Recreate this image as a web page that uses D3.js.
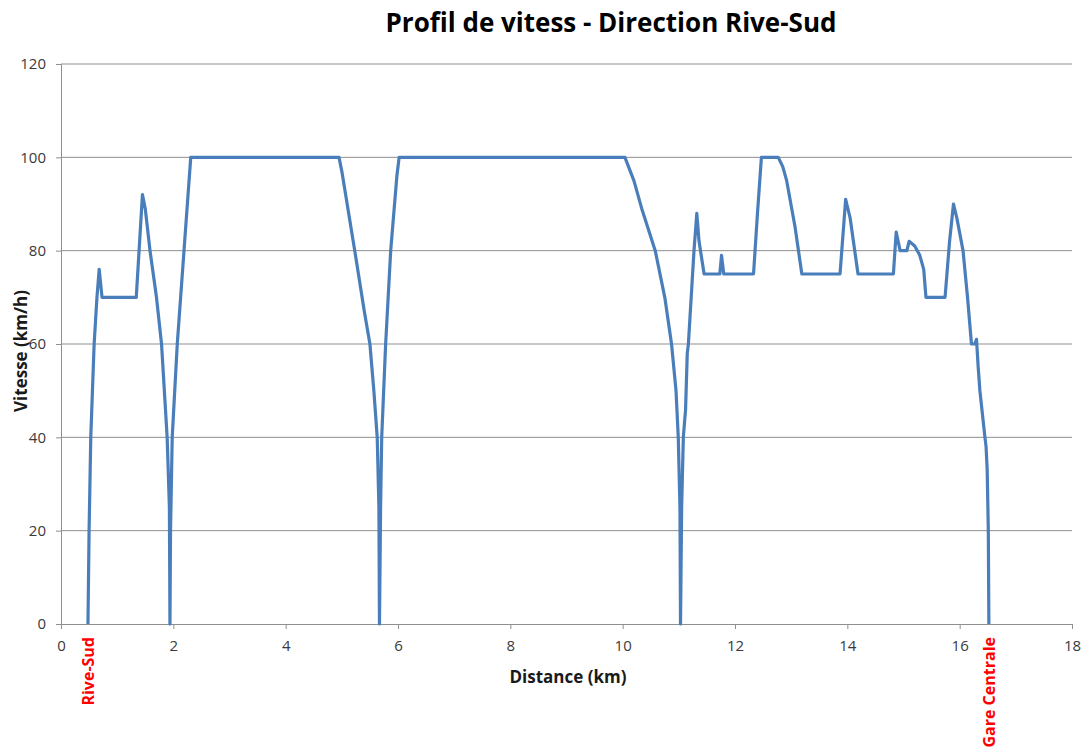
<!DOCTYPE html>
<html>
<head>
<meta charset="utf-8">
<script src="https://cdn.jsdelivr.net/npm/d3@7"></script>
<style>
  body { margin: 0; background: #fff; }
  text { font-family: "Open Sans", "DejaVu Sans", sans-serif; }
</style>
</head>
<body>
<div id="chart"></div>
<script>
// distance (km) / speed (km/h)
const distance = [
    0.48, 0.50, 0.53, 0.59, 0.64, 0.68, 0.73, 1.34, 1.45, 1.50,
    1.585, 1.70, 1.79, 1.89, 1.93, 1.94, 1.95, 1.98, 2.07, 2.19,
    2.31, 4.95, 5.00, 5.23, 5.40, 5.50, 5.57, 5.63, 5.66, 5.67,
    5.69, 5.71, 5.78, 5.87, 5.98, 6.02, 10.04, 10.20, 10.34, 10.58,
    10.75, 10.87, 10.95, 10.99, 11.02, 11.03, 11.05, 11.08, 11.12, 11.15,
    11.17, 11.27, 11.32, 11.36, 11.45, 11.73, 11.76, 11.80, 12.33, 12.40,
    12.47, 12.77, 12.85, 12.92, 13.07, 13.19, 13.87, 13.97, 14.05, 14.19,
    14.82, 14.87, 14.94, 15.06, 15.10, 15.20, 15.29, 15.36, 15.40, 15.74,
    15.82, 15.89, 15.95, 16.06, 16.14, 16.21, 16.27, 16.30, 16.33, 16.36,
    16.45, 16.47, 16.49, 16.51, 16.52
];
const speed = [
    0, 20, 40, 60, 70, 76, 70, 70, 92, 89,
    80, 70, 60, 40, 25, 0, 20, 40, 60, 80,
    100, 100, 97, 80, 67, 60, 50, 40, 25, 0,
    25, 40, 60, 80, 96, 100, 100, 95, 89, 80,
    70, 60, 50, 40, 25, 0, 25, 40, 46, 58,
    60, 80, 88, 82, 75, 75, 79, 75, 75, 88,
    100, 100, 98, 95, 85, 75, 75, 91, 87, 75,
    75, 84, 80, 80, 82, 81, 79, 76, 70, 70,
    82, 90, 87, 80, 70, 60, 60, 61, 55, 50,
    40, 38, 33, 20, 0
];
const xTicks = [0, 2, 4, 6, 8, 10, 12, 14, 16, 18];
const yTicks = [0, 20, 40, 60, 80, 100, 120];
const stations = ["Rive-Sud", "Gare Centrale"];
const stationKm = [0.48, 16.52];

const width = 1086;
const height = 751;
const margin = { top: 64, right: 14, bottom: 127, left: 61 };

const svg = d3.select('#chart')
    .append('svg')
    .attr('width', width)
    .attr('height', height);

const x = d3.scaleLinear().domain([0, 18]).range([margin.left, width - margin.right]);
const y = d3.scaleLinear().domain([0, 120]).range([height - margin.bottom, margin.top]);

const gridColor = '#8f8f8f';

// horizontal gridlines
svg.append('g')
    .selectAll('line')
    .data(yTicks.filter(d => d > 0))
    .join('line')
    .attr('x1', x(0))
    .attr('x2', x(18))
    .attr('y1', d => y(d))
    .attr('y2', d => y(d))
    .attr('stroke', gridColor)
    .attr('stroke-width', 1);

// axes
const xAxis = svg.append('g')
    .attr('transform', `translate(0,${y(0)})`)
    .call(d3.axisBottom(x).tickValues(xTicks).tickSize(5).tickPadding(11));
const yAxis = svg.append('g')
    .attr('transform', `translate(${x(0)},0)`)
    .call(d3.axisLeft(y).tickValues(yTicks).tickSize(5).tickPadding(10));

[xAxis, yAxis].forEach(g => {
    g.select('.domain').attr('stroke', gridColor);
    g.selectAll('.tick line').attr('stroke', gridColor);
    g.selectAll('.tick text')
        .attr('fill', '#3a3a3a')
        .style('font-size', '15px')
        .style('font-family', '"Open Sans", sans-serif');
});

// speed profile
const points = distance.map((d, i) => [d, speed[i]]);
svg.append('path')
    .datum(points)
    .attr('fill', 'none')
    .attr('stroke', '#4a7ebb')
    .attr('stroke-width', 3.2)
    .attr('stroke-linejoin', 'round')
    .attr('d', d3.line().x(d => x(d[0])).y(d => y(d[1])));

// title
svg.append('text')
    .attr('x', 611)
    .attr('y', 32)
    .attr('text-anchor', 'middle')
    .style('font-size', '26px')
    .style('font-weight', 'bold')
    .attr('fill', '#000')
    .text('Profil de vitess - Direction Rive-Sud');

// axis titles
svg.append('text')
    .attr('x', 568)
    .attr('y', 683)
    .attr('text-anchor', 'middle')
    .style('font-size', '17px')
    .style('font-weight', 'bold')
    .attr('fill', '#1a1a1a')
    .text('Distance (km)');

svg.append('text')
    .attr('transform', 'translate(27,351) rotate(-90)')
    .attr('text-anchor', 'middle')
    .style('font-size', '17px')
    .style('font-weight', 'bold')
    .attr('fill', '#1a1a1a')
    .text('Vitesse (km/h)');

// station labels
svg.append('g')
    .selectAll('text')
    .data(stations)
    .join('text')
    .attr('transform', (d, i) => `translate(${x(stationKm[i]) + 6},637) rotate(-90)`)
    .attr('text-anchor', 'end')
    .style('font-size', '16px')
    .style('font-weight', 'bold')
    .attr('fill', '#ff0000')
    .text(d => d);
</script>
</body>
</html>
